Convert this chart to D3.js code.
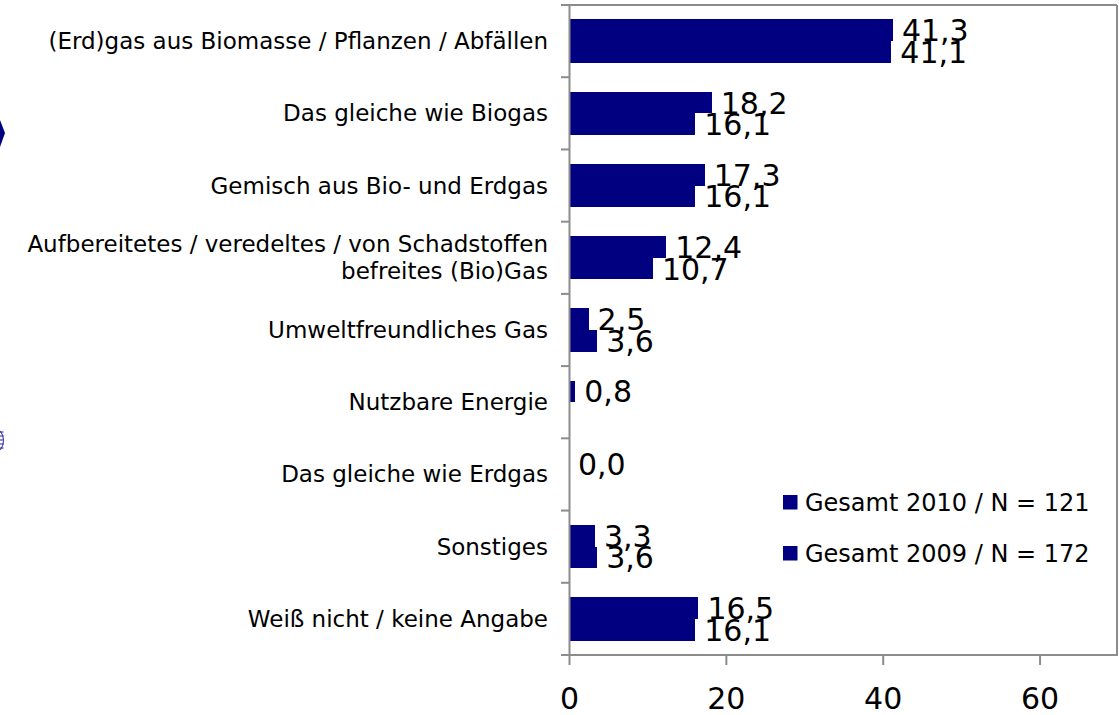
<!DOCTYPE html>
<html>
<head>
<meta charset="utf-8">
<script src="https://cdn.jsdelivr.net/npm/d3@7"></script>
<style>
  html, body { margin: 0; padding: 0; background: #fff; }
  svg { display: block; }
  text { font-family: "DejaVu Sans", Verdana, sans-serif; fill: #000; }
</style>
</head>
<body>
<svg id="chart" width="1119" height="715"></svg>
<script>
const categories = [
  "(Erd)gas aus Biomasse / Pflanzen / Abfällen",
  "Das gleiche wie Biogas",
  "Gemisch aus Bio- und Erdgas",
  "Aufbereitetes / veredeltes / von Schadstoffen\nbefreites (Bio)Gas",
  "Umweltfreundliches Gas",
  "Nutzbare Energie",
  "Das gleiche wie Erdgas",
  "Sonstiges",
  "Weiß nicht / keine Angabe"
];
const seriesNames = ["Gesamt 2010 / N = 121", "Gesamt 2009 / N = 172"];
const values2010 = [41.3, 18.2, 17.3, 12.4, 2.5, 0.8, 0.0, 3.3, 16.5];
const values2009 = [41.1, 16.1, 16.1, 10.7, 3.6, null, null, 3.6, 16.1];
const xTicks = [0, 20, 40, 60];
const xMax = 70;

(function () {
const svg = d3.select("#chart");
const pLeft = 569, pRight = 1118, pTop = 5, pBottom = 655;
const navy = "#000080";
const axisGray = "#8c8c8c";

const x = d3.scaleLinear().domain([0, xMax]).range([pLeft, pRight]);
const y = d3.scaleBand().domain(categories).range([pTop, pBottom]).paddingInner(0).paddingOuter(0);
const ySub = d3.scaleBand().domain(seriesNames).range([0, y.bandwidth()]).paddingInner(0).paddingOuter(0.667);

const fmt = v => d3.format(".1f")(v).replace(".", ",");

// plot border (top & right)
svg.append("line").attr("x1", pLeft - 8).attr("x2", pRight - 1).attr("y1", pTop).attr("y2", pTop)
  .attr("stroke", axisGray).attr("stroke-width", 2);
svg.append("line").attr("x1", pRight - 1).attr("x2", pRight - 1).attr("y1", pTop).attr("y2", pBottom)
  .attr("stroke", axisGray).attr("stroke-width", 2);

// bars
const rows = [];
categories.forEach((c, i) => {
  rows.push({cat: c, s: seriesNames[0], v: values2010[i]});
  rows.push({cat: c, s: seriesNames[1], v: values2009[i]});
});
const valid = rows.filter(d => d.v !== null);

svg.append("g").attr("shape-rendering", "crispEdges").selectAll("rect").data(valid).join("rect")
  .attr("x", x(0))
  .attr("y", d => Math.round(y(d.cat) + ySub(d.s)))
  .attr("width", d => x(d.v) - x(0))
  .attr("height", d => Math.round(y(d.cat) + ySub(d.s) + ySub.bandwidth()) - Math.round(y(d.cat) + ySub(d.s)))
  .attr("fill", navy);

// value labels
svg.append("g").selectAll("text").data(valid).join("text")
  .attr("x", d => x(d.v) + 9)
  .attr("y", d => y(d.cat) + ySub(d.s) + ySub.bandwidth() / 2 + 11)
  .attr("font-size", 30)
  .text(d => fmt(d.v));

// y axis
const yAxis = d3.axisLeft(y).tickSize(0).tickFormat("");
const gy = svg.append("g").attr("transform", `translate(${pLeft},0)`).call(yAxis);
gy.select(".domain").attr("stroke", axisGray).attr("stroke-width", 2);
const bounds = categories.map(c => y(c)).concat([pBottom]);
svg.append("g").selectAll("line").data(bounds).join("line")
  .attr("x1", pLeft - 8).attr("x2", pLeft).attr("y1", d => d).attr("y2", d => d)
  .attr("stroke", axisGray).attr("stroke-width", 2);

// category labels
const catG = svg.append("g");
categories.forEach(c => {
  const lines = c.split("\n");
  const cy = y(c) + y.bandwidth() / 2;
  const lh = 27;
  lines.forEach((ln, j) => {
    catG.append("text")
      .attr("x", 548)
      .attr("y", cy + (j - (lines.length - 1) / 2) * lh + 8)
      .attr("text-anchor", "end")
      .attr("font-size", 23)
      .text(ln);
  });
});

// x axis
const xAxis = d3.axisBottom(x).tickValues(xTicks).tickSize(10).tickPadding(23).tickFormat(d3.format("d"));
const gx = svg.append("g").attr("transform", `translate(0,${pBottom})`).call(xAxis);
gx.select(".domain").attr("stroke", axisGray).attr("stroke-width", 2).attr("d", `M${pLeft - 8},0H${pRight}`);
gx.selectAll(".tick line").attr("stroke", axisGray).attr("stroke-width", 2);
gx.selectAll(".tick text").attr("font-size", 30).attr("font-family", '"DejaVu Sans", Verdana, sans-serif').attr("fill", "#000");

// legend
const legend = svg.append("g").attr("transform", "translate(783,495)");
seriesNames.forEach((s, i) => {
  const g = legend.append("g").attr("transform", `translate(0,${i * 51})`);
  g.append("rect").attr("width", 14.5).attr("height", 14.5).attr("fill", navy);
  g.append("text").attr("x", 22).attr("y", 15.5).attr("font-size", 24).text(s);
});

// cut-off decorative shapes at the far left edge
svg.append("path").attr("d", "M0,120 L5,133 L0,147 Z").attr("fill", navy);
const glob = svg.append("g").attr("fill", "none").attr("stroke", "#2020a0").attr("stroke-width", 1);
glob.append("ellipse").attr("cx", -6).attr("cy", 440.5).attr("rx", 9.5).attr("ry", 12.5);
[432, 436, 440, 444, 448].forEach(yy => glob.append("line").attr("x1", 0).attr("x2", 3.5).attr("y1", yy).attr("y2", yy));
})();
</script>
</body>
</html>
